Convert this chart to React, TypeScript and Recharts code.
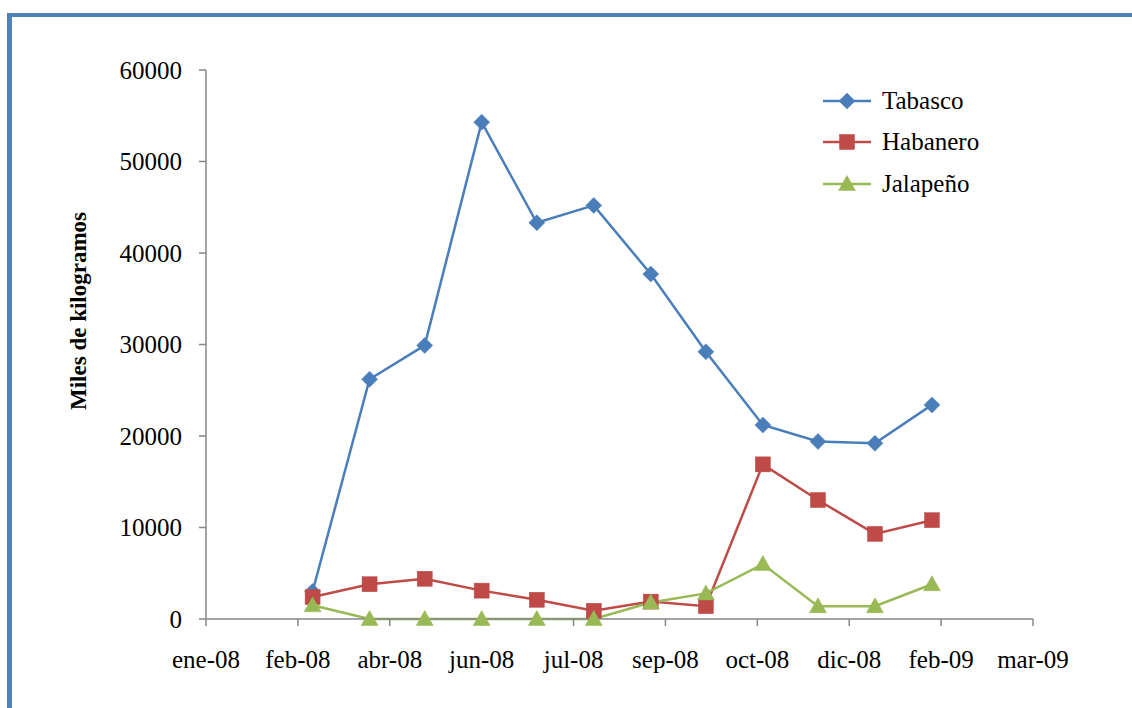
import React from "react";
import { LineChart, Line, XAxis, YAxis } from "recharts";

/* Miles de kilogramos por mes, mar-08 a feb-09 */
const meses = ["mar-08", "abr-08", "may-08", "jun-08", "jul-08", "ago-08", "sep-08", "oct-08", "nov-08", "dic-08", "ene-09", "feb-09"];
const tabasco = [3000, 26200, 29900, 54300, 43300, 45200, 37700, 29200, 21200, 19400, 19200, 23400];
const habanero = [2400, 3800, 4400, 3100, 2100, 900, 1900, 1400, 16900, 13000, 9300, 10800];
const jalapeno = [1500, 0, 0, 0, 0, 0, 1800, 2800, 6000, 1400, 1400, 3800];

const xTickLabels = ["ene-08", "feb-08", "abr-08", "jun-08", "jul-08", "sep-08", "oct-08", "dic-08", "feb-09", "mar-09"];
const yTicks = [0, 10000, 20000, 30000, 40000, 50000, 60000];

// eje de fechas: días desde el 1 ene 2008, unidad mayor de 50 días
const DAY = 86400000;
const base = Date.UTC(2008, 0, 1);
const axisStart = 2;
const tickStep = 50;
const xTicks = xTickLabels.map((_, i) => axisStart + i * tickStep);

const data = meses.map((mes, i) => ({
  mes,
  dia: (Date.UTC(2008, 2 + i, 1) - base) / DAY,
  tabasco: tabasco[i],
  habanero: habanero[i],
  jalapeno: jalapeno[i],
}));

const BLUE = "#4A7EBB";
const RED = "#BE4B48";
const GREEN = "#98B954";
const FONT = '"Liberation Serif", "Times New Roman", serif';

function Diamond({ cx, cy, fill }: any) {
  if (cx == null || cy == null) return null;
  const r = 8;
  return <path d={`M${cx},${cy - r}L${cx + r},${cy}L${cx},${cy + r}L${cx - r},${cy}Z`} fill={fill} stroke={fill} strokeWidth={0.5} />;
}

function Square({ cx, cy, fill }: any) {
  if (cx == null || cy == null) return null;
  const r = 7.5;
  return <rect x={cx - r} y={cy - r} width={r * 2} height={r * 2} fill={fill} stroke={fill} strokeWidth={0.5} />;
}

function Triangle({ cx, cy, fill }: any) {
  if (cx == null || cy == null) return null;
  return <path d={`M${cx},${cy - 8.5}L${cx + 8.5},${cy + 6.5}L${cx - 8.5},${cy + 6.5}Z`} fill={fill} stroke={fill} strokeWidth={0.5} />;
}

const series = [
  { key: "tabasco", name: "Tabasco", color: BLUE, Dot: Diamond },
  { key: "habanero", name: "Habanero", color: RED, Dot: Square },
  { key: "jalapeno", name: "Jalapeño", color: GREEN, Dot: Triangle },
];

function CustomLegend() {
  return (
    <div style={{ position: "absolute", left: 823, top: 80, fontFamily: FONT, fontSize: 25, color: "#000" }}>
      {series.map((s) => (
        <div key={s.key} style={{ display: "flex", alignItems: "center", height: 41.5 }}>
          <svg width={59} height={20} style={{ flexShrink: 0 }}>
            <line x1={0} y1={10} x2={48} y2={10} stroke={s.color} strokeWidth={2.5} />
            <s.Dot cx={24} cy={10} fill={s.color} />
          </svg>
          <span>{s.name}</span>
        </div>
      ))}
    </div>
  );
}

export default function App() {
  return (
    <div style={{ position: "fixed", left: 0, top: 0, width: 1132, height: 708, overflow: "hidden", background: "#fff" }}>
      <div
        style={{
          position: "absolute", left: 7, top: 13, width: 1300, height: 900,
          borderLeft: "5px solid #4F81BD", borderTop: "4px solid #4F81BD",
        }}
      />
      <div style={{ position: "absolute", left: 0, top: 0 }}>
        <LineChart width={1132} height={708} data={data} margin={{ top: 70, right: 99, left: 0, bottom: 29 }}>
          <XAxis
            dataKey="dia"
            type="number"
            domain={[xTicks[0], xTicks[xTicks.length - 1]]}
            ticks={xTicks}
            tickFormatter={(v: number) => xTickLabels[Math.round((v - axisStart) / tickStep)]}
            interval={0}
            height={60}
            stroke="#868686"
            strokeWidth={1.5}
            tickSize={7}
            tickMargin={24}
            tick={{ fill: "#000", fontSize: 25, fontFamily: FONT }}
          />
          <YAxis
            domain={[0, 60000]}
            ticks={yTicks}
            interval={0}
            width={206}
            stroke="#868686"
            strokeWidth={1.5}
            tickSize={7}
            tickMargin={17}
            tick={{ fill: "#000", fontSize: 25, fontFamily: FONT }}
            label={{
              content: () => (
                <text
                  x={78} y={311} transform="rotate(-90 78 311)" textAnchor="middle" dominantBaseline="central"
                  style={{ fontFamily: FONT, fontSize: 23, fontWeight: "bold", fill: "#000" }}
                >
                  Miles de kilogramos
                </text>
              ),
            }}
          />
          {series.map((s) => (
            <Line
              key={s.key}
              dataKey={s.key}
              name={s.name}
              stroke={s.color}
              strokeWidth={2.5}
              dot={(p: any) => <s.Dot key={`${s.key}-${p.index}`} cx={p.cx} cy={p.cy} fill={s.color} />}
              activeDot={false}
              isAnimationActive={false}
            />
          ))}
        </LineChart>
      </div>
      <CustomLegend />
    </div>
  );
}
